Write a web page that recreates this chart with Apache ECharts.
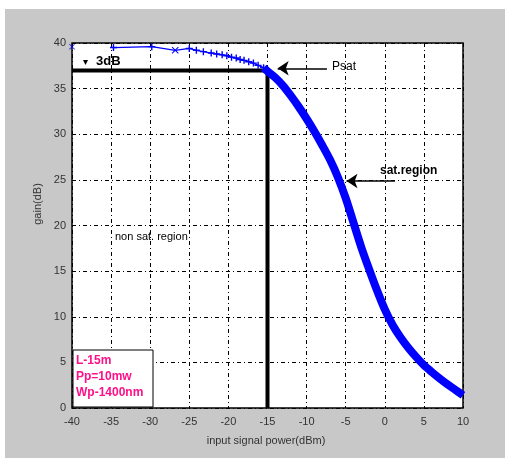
<!DOCTYPE html>
<html>
<head>
<meta charset="utf-8">
<script src="https://cdn.jsdelivr.net/npm/echarts@6/dist/echarts.min.js"></script>
<style>
html,body{margin:0;padding:0;background:#fff;}
#c{width:505px;height:458px;}
</style>
</head>
<body>
<div id="c"></div>
<script>
// ---- data ----
const xTicks = [-40, -35, -30, -25, -20, -15, -10, -5, 0, 5, 10];
const yTicks = [0, 5, 10, 15, 20, 25, 30, 35, 40];
const firstPower = [-40];
const firstGain = [39.6];
const powerSparse = [-34.7, -29.8, -26.8, -25.0, -24.1, -23.2, -22.2, -21.5, -20.8, -20.2, -19.6, -19.0, -18.5, -18.0, -17.4, -16.8, -16.2, -15.5, -15.0];
const gainSparse  = [39.5, 39.6, 39.2, 39.4, 39.2, 39.05, 38.9, 38.8, 38.7, 38.6, 38.45, 38.35, 38.2, 38.1, 37.95, 37.8, 37.55, 37.3, 37.0];
const powerDense = [-15.5, -15, -14, -13, -12, -11, -10, -9, -8, -7, -6, -5, -4, -3, -2, -1, 0, 1, 2, 3, 4, 5, 6, 7, 8, 9, 10];
const gainDense  = [37.3, 36.9, 36.2, 35.3, 34.2, 33.0, 31.7, 30.3, 28.8, 27.2, 25.3, 23.0, 20.3, 17.6, 15.2, 12.9, 10.8, 9.1, 7.75, 6.6, 5.6, 4.7, 3.95, 3.25, 2.6, 2.0, 1.4];
const refPower = [-40, -15, -15];
const refGain  = [37, 37, 0];
const psatArrow = [[-13.7, 37.23], [-7.4, 37.23]];
const satArrow  = [[-4.9, 24.88], [1.3, 24.88]];
const infoLines = ['L-15m', 'Pp=10mw', 'Wp-1400nm'];

const zip = (a, b) => a.map((v, i) => [v, b[i]]);
const plusPath = 'path://M4,0L6,0L6,4L10,4L10,6L6,6L6,10L4,10L4,6L0,6L0,4L4,4Z';
const xPath = 'path://M1,0L5,4L9,0L10,1L6,5L10,9L9,10L5,6L1,10L0,9L4,5L0,1Z';
const blue = '#0000ff';
const FONT = 'Liberation Sans, Arial, sans-serif';

const chart = echarts.init(document.getElementById('c'), null, {renderer: 'canvas'});
const option = {
  animation: false,
  backgroundColor: '#fff',
  grid: {left: 72, top: 43, width: 391, height: 365, show: true, backgroundColor: '#fff', borderColor: '#000', borderWidth: 1.5},
  xAxis: {
    type: 'value', min: -40, max: 10, interval: 5,
    axisLine: {show: false}, axisTick: {show: false},
    axisLabel: {color: '#333', fontSize: 11, fontFamily: FONT, margin: 8,
      formatter: v => xTicks.includes(v) ? String(v) : ''},
    splitLine: {show: true, lineStyle: {color: '#000', width: 1, type: [4, 3, 1, 3]}}
  },
  yAxis: {
    type: 'value', min: 0, max: 40, interval: 5,
    axisLine: {show: false}, axisTick: {show: false},
    axisLabel: {color: '#333', fontSize: 11, fontFamily: FONT, margin: 6,
      formatter: v => yTicks.includes(v) ? String(v) : ''},
    splitLine: {show: true, lineStyle: {color: '#000', width: 1, type: [4, 3, 1, 3]}}
  },
  series: [
    {
      type: 'line', data: zip(refPower, refGain), symbol: 'none', silent: true,
      lineStyle: {color: '#000', width: 4}, z: 3,
      markLine: {
        silent: true, symbol: ['arrow', 'none'], symbolSize: 11,
        label: {show: false},
        lineStyle: {color: '#000', width: 1.5, type: 'solid'},
        data: [
          [{coord: psatArrow[0]}, {coord: psatArrow[1]}],
          [{coord: satArrow[0]}, {coord: satArrow[1]}]
        ]
      }
    },
    {
      type: 'line', data: zip(powerDense, gainDense), symbol: 'none', smooth: 0.3,
      lineStyle: {color: blue, width: 8}, z: 4
    },
    {
      type: 'line', data: zip(powerSparse, gainSparse),
      symbol: (v, p) => p.dataIndex === 2 ? xPath : plusPath, symbolSize: 7,
      itemStyle: {color: blue}, lineStyle: {color: blue, width: 1.3}, z: 5
    },
    {
      type: 'scatter', data: zip(firstPower, firstGain), symbol: xPath, symbolSize: 6,
      itemStyle: {color: blue}, z: 5
    }
  ],
  graphic: [
    {type: 'rect', z: -10, shape: {x: 5, y: 9, width: 500, height: 449}, style: {fill: '#c8c8c8'}},
    {type: 'polygon', z: 50, shape: {points: [[83, 60], [88, 60], [85.5, 65]]}, style: {fill: '#000'}},
    {type: 'text', z: 50, left: 96, top: 55, style: {text: '3dB', font: 'bold 13px ' + FONT, fill: '#000'}},
    {type: 'text', z: 50, left: 332, top: 61, style: {text: 'Psat', font: '12px ' + FONT, fill: '#000'}},
    {type: 'text', z: 50, left: 380, top: 165, style: {text: 'sat.region', font: 'bold 12px ' + FONT, fill: '#000'}},
    {type: 'text', z: 50, left: 115, top: 231, style: {text: 'non sat. region', font: '11px ' + FONT, fill: '#000'}},
    {type: 'rect', z: 50, shape: {x: 73, y: 350, width: 80, height: 57}, style: {fill: '#fff', stroke: '#000', lineWidth: 1}},
    {type: 'text', z: 51, left: 76, top: 355, style: {text: infoLines[0], font: 'bold 12px ' + FONT, fill: '#ff0f8a'}},
    {type: 'text', z: 51, left: 76, top: 371, style: {text: infoLines[1], font: 'bold 12px ' + FONT, fill: '#ff0f8a'}},
    {type: 'text', z: 51, left: 76, top: 387, style: {text: infoLines[2], font: 'bold 12px ' + FONT, fill: '#ff0f8a'}},
    {type: 'text', z: 50, x: 38, y: 204, rotation: Math.PI / 2,
      style: {text: 'gain(dB)', font: '11px ' + FONT, fill: '#333', textAlign: 'center', textVerticalAlign: 'middle'}},
    {type: 'text', z: 50, x: 266, y: 441,
      style: {text: 'input signal power(dBm)', font: '11px ' + FONT, fill: '#333', textAlign: 'center', textVerticalAlign: 'middle'}}
  ]
};
chart.setOption(option);
</script>
</body>
</html>
